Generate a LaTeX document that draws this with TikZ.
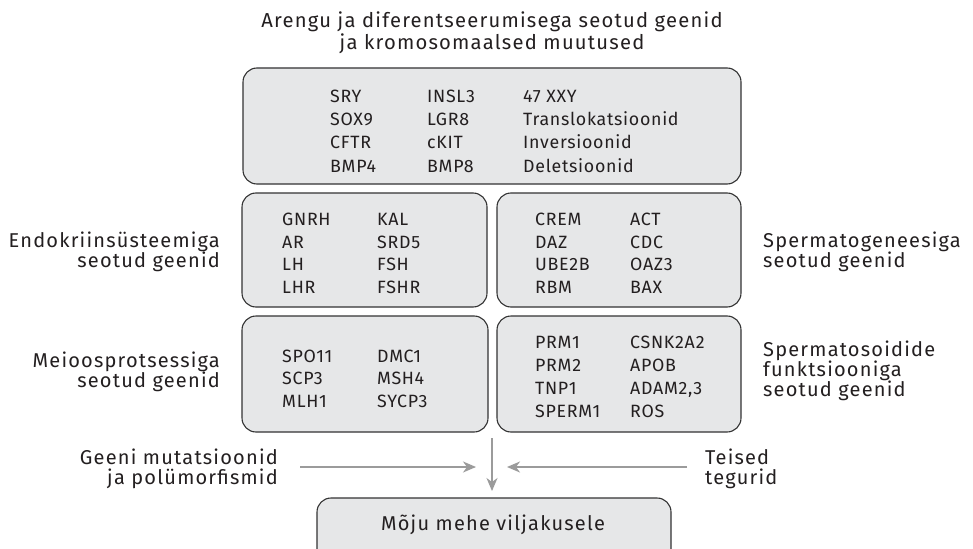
\documentclass[tikz,border=0pt]{standalone}
\usepackage{fontspec}
\setmainfont{Fira Sans}
\newfontfamily\genefont[LetterSpace=4]{Fira Sans}
\newfontfamily\labfont[LetterSpace=6]{Fira Sans}
\usetikzlibrary{arrows.meta}
\definecolor{boxfill}{HTML}{E6E7E8}
\definecolor{boxline}{HTML}{333333}
\definecolor{ink}{HTML}{231F20}
\definecolor{arrowgray}{HTML}{9B9B9B}
\begin{document}
\begin{tikzpicture}[x=1pt,y=-1pt,
  genebox/.style={draw=boxline, fill=boxfill, line width=1.1pt, rounded corners=14pt, inner sep=0pt, rectangle},
  gene/.style={anchor=base west, inner sep=0pt, font=\genefont\fontsize{17.8}{20}\selectfont, text=ink},
  sidelab/.style={inner sep=0pt, font=\labfont\fontsize{20}{20}\selectfont, text=ink},
  flow/.style={draw=arrowgray, line width=1.4pt, -{Stealth[length=13pt,width=11pt,inset=4pt]}}]
\useasboundingbox (0,0) rectangle (973,548);
\fill[white] (0,0) rectangle (973,548);

% title
\node[sidelab, align=center, anchor=north, font=\labfont\fontsize{20.2}{22}\selectfont] (title) at (492,12)
  {Arengu ja diferentseerumisega seotud geenid\\ja kromosomaalsed muutused};

% boxes
\node[genebox, minimum width=498pt, minimum height=116pt] (top) at (492,126) {};
\node[genebox, minimum width=245pt, minimum height=114pt] (ml) at (364.5,250) {};
\node[genebox, minimum width=244pt, minimum height=114pt] (mr) at (619,250) {};
\node[genebox, minimum width=246pt, minimum height=116pt] (bl) at (365,374) {};
\node[genebox, minimum width=244pt, minimum height=116pt] (br) at (619,374) {};
\node[genebox, minimum width=354pt, minimum height=84pt] (res) at (494,540) {};
\node[sidelab, anchor=base, font=\labfont\fontsize{20}{22}\selectfont] (restext) at (493,530) {Mõju mehe viljakusele};

% top box genes
\node[gene] (t11) at (330,103) {SRY};
\node[gene] (t12) at (427,103) {INSL3};
\node[gene] (t13) at (523,103) {47 XXY};
\node[gene] (t21) at (330,126) {SOX9};
\node[gene] (t22) at (427,126) {LGR8};
\node[gene] (t23) at (523,126) {Translokatsioonid};
\node[gene] (t31) at (330,149) {CFTR};
\node[gene] (t32) at (427,149) {cKIT};
\node[gene] (t33) at (523,149) {Inversioonid};
\node[gene] (t41) at (330,172) {BMP4};
\node[gene] (t42) at (427,172) {BMP8};
\node[gene] (t43) at (523,172) {Deletsioonid};

% middle left
\node[gene] (ml11) at (282,225) {GNRH};
\node[gene] (ml12) at (377,225) {KAL};
\node[gene] (ml21) at (282,248) {AR};
\node[gene] (ml22) at (377,248) {SRD5};
\node[gene] (ml31) at (282,270) {LH};
\node[gene] (ml32) at (377,270) {FSH};
\node[gene] (ml41) at (282,293) {LHR};
\node[gene] (ml42) at (377,293) {FSHR};

% middle right
\node[gene] (mr11) at (535,225) {CREM};
\node[gene] (mr12) at (630,225) {ACT};
\node[gene] (mr21) at (535,248) {DAZ};
\node[gene] (mr22) at (630,248) {CDC};
\node[gene] (mr31) at (535,270) {UBE2B};
\node[gene] (mr32) at (630,270) {OAZ3};
\node[gene] (mr41) at (535,293) {RBM};
\node[gene] (mr42) at (630,293) {BAX};

% bottom left
\node[gene] (bl11) at (282,362) {SPO11};
\node[gene] (bl12) at (377,362) {DMC1};
\node[gene] (bl21) at (282,384) {SCP3};
\node[gene] (bl22) at (377,384) {MSH4};
\node[gene] (bl31) at (282,407) {MLH1};
\node[gene] (bl32) at (377,407) {SYCP3};

% bottom right
\node[gene] (br11) at (535,348) {PRM1};
\node[gene] (br12) at (630,348) {CSNK2A2};
\node[gene] (br21) at (535,371) {PRM2};
\node[gene] (br22) at (630,371) {APOB};
\node[gene] (br31) at (535,394) {TNP1};
\node[gene] (br32) at (630,394) {ADAM2,3};
\node[gene] (br41) at (535,417) {SPERM1};
\node[gene] (br42) at (630,417) {ROS};

% side labels
\node[sidelab, align=right, anchor=east] (lab1) at (220,252) {Endokriinsüsteemiga\\seotud geenid};
\node[sidelab, align=right, anchor=east] (lab2) at (220,372) {Meioosprotsessiga\\seotud geenid};
\node[sidelab, align=left, anchor=west] (lab3) at (763,252) {Spermatogeneesiga\\seotud geenid};
\node[sidelab, align=left, anchor=west] (lab4) at (763,371) {Spermatosoidide\\funktsiooniga\\seotud geenid};
\node[sidelab, align=right, anchor=east] (lab5) at (278,469) {Geeni mutatsioonid\\ja polümorfismid};
\node[sidelab, align=left, anchor=west] (lab6) at (705,469) {Teised\\tegurid};

% arrows
\coordinate (vtop) at (492,438);
\coordinate (vend) at (492,491);
\coordinate (lstart) at (300,467);
\coordinate (lend) at (476,467);
\coordinate (rstart) at (687,467);
\coordinate (rend) at (507,467);
\draw[flow] (vtop) -- (vend);
\draw[flow] (lstart) -- (lend);
\draw[flow] (rstart) -- (rend);
\end{tikzpicture}
\end{document}
